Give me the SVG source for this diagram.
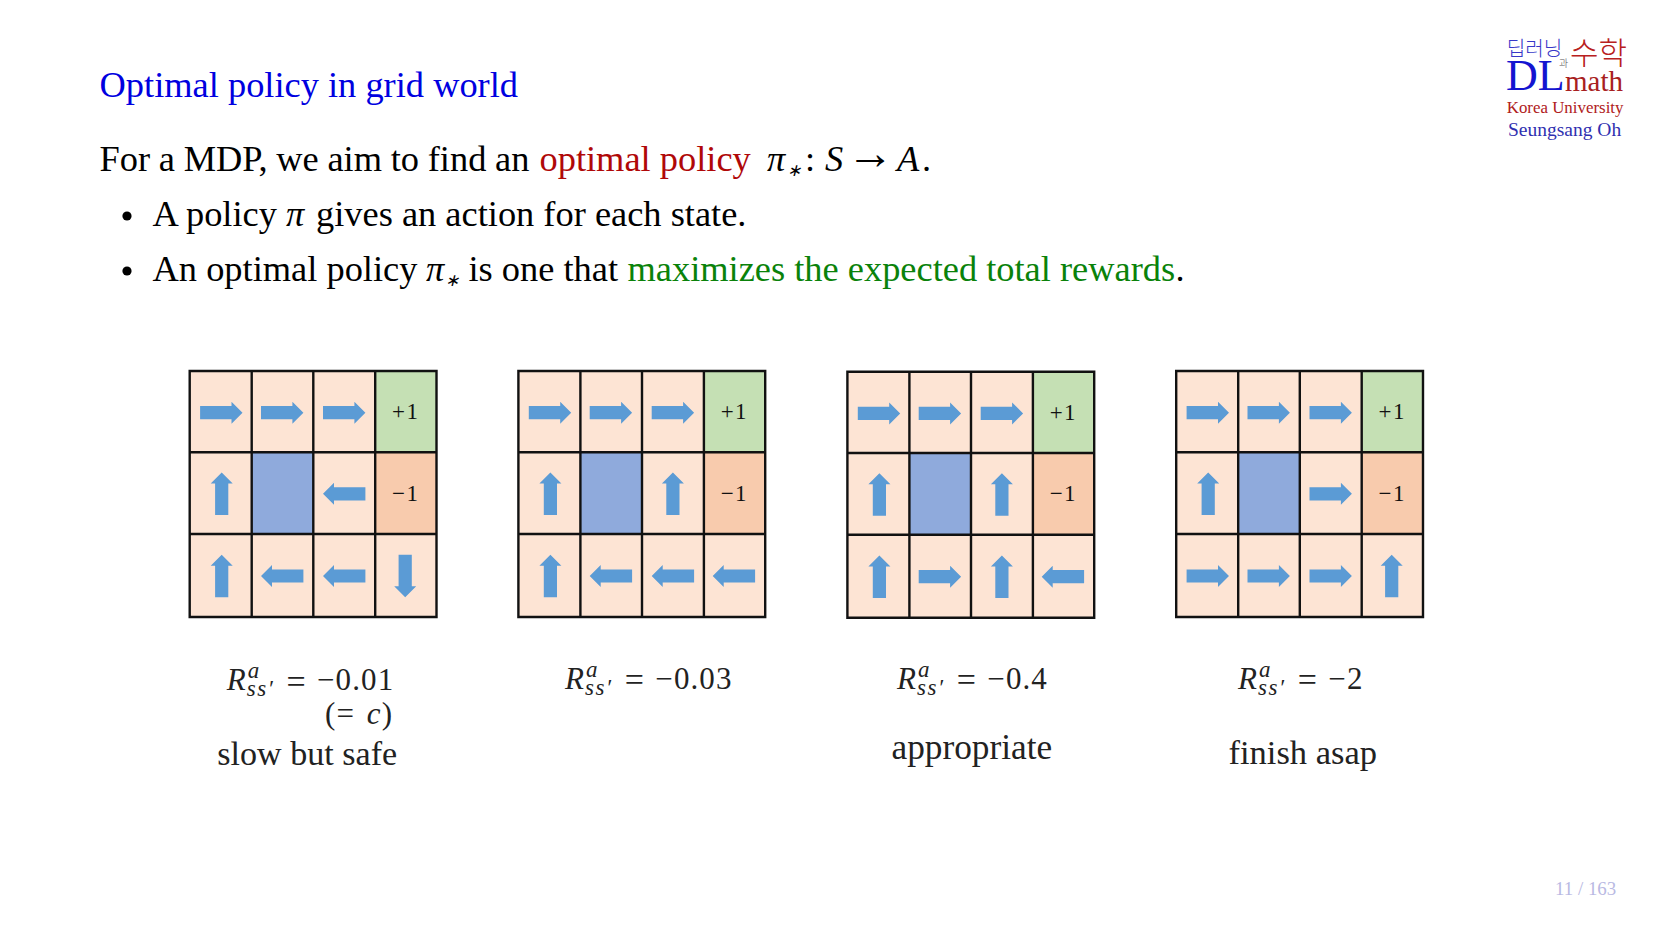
<svg xmlns="http://www.w3.org/2000/svg" xmlns:xlink="http://www.w3.org/1999/xlink" width="1662" height="935" viewBox="0 0 1662 935">
<style>
text{font-family:"Liberation Serif","Noto Sans CJK KR",serif}
.m{font-size:36.4px}
.i{font-style:italic}
.st{font-size:17px;font-style:italic}
.eq{font-size:31px;fill:#222;letter-spacing:1.1px}
.eqq{font-size:34px;fill:#222}
.eqs{font-size:23px;fill:#222;font-style:italic}
.ssp{letter-spacing:1.6px}
.cap{fill:#222}
.v{font-size:23px;fill:#111;text-anchor:middle;letter-spacing:1.5px}
.a{fill:#5b9bd5}
.cell{fill:#fde4d4}
.ln{stroke:#111;stroke-width:2.4;fill:none}
.kr{font-family:"Noto Sans CJK KR","Liberation Sans",sans-serif;font-weight:300}
</style>
<defs>
<path id="ar" class="a" d="M-21.2-6.6H10.2V-11L21.2 0 10.2 11V6.6H-21.2Z"/>
<g id="board">
<rect class="cell" x="0" y="0" width="246.8" height="246"/>
<rect x="185.5" y="0" width="61.3" height="81.3" fill="#c5e0b4"/>
<rect x="185.5" y="81.3" width="61.3" height="81.7" fill="#f8cbad"/>
<rect x="62" y="81.3" width="61.6" height="81.7" fill="#8faadc"/>
<path class="ln" d="M0 0H246.8V246H0ZM62 0V246M123.6 0V246M185.5 0V246M0 81.3H246.8M0 163H246.8"/>
</g>
</defs>
<rect width="1662" height="935" fill="#fff"/>

<text id="title" x="99.6" y="96.5" font-size="36.4" fill="#0000e0">Optimal policy in grid world</text>

<g id="body">
<text class="m" x="99.6" y="171" word-spacing="-0.4">For a MDP, we aim to find an</text><text class="m" x="539.5" y="171" fill="#b00808">optimal policy</text>
<text class="m i" x="767" y="171">π</text><text class="st" x="787" y="176">∗</text>
<text class="m" x="805" y="171">:</text><text class="m i" x="825" y="171">S</text><text x="846.5" y="168.5" font-size="47">→</text><text class="m i" x="897" y="171">A</text><text class="m" x="922" y="171">.</text>
<circle cx="127" cy="216" r="4.6" fill="#000"/>
<text class="m" x="152.6" y="226">A policy</text><text class="m i" x="286" y="226">π</text><text class="m" x="316" y="226">gives an action for each state.</text>
<circle cx="127" cy="271" r="4.6" fill="#000"/>
<text class="m" x="152.6" y="281">An optimal policy</text><text class="m i" x="426" y="281">π</text><text class="st" x="445" y="286">∗</text>
<text class="m" x="468.5" y="281">is one that</text><text class="m" x="627.5" y="281" fill="#0a820a">maximizes the expected total rewards</text><text class="m" x="1175.5" y="281">.</text>
</g>

<g id="logo">
<text class="kr" x="1506.7" y="56" font-size="20.2" fill="#3838c8">딥러닝</text>
<text class="kr" x="1570" y="64" font-size="31" fill="#b82020">수학</text>
<text class="kr" x="1559" y="67" font-size="10" fill="#555">과</text>
<text x="1506" y="90" font-size="44" fill="#1414d0">DL</text>
<text x="1565" y="90.5" font-size="29" fill="#a82020">math</text>
<text x="1506.7" y="112.5" font-size="16.9" fill="#b02020">Korea University</text>
<text x="1508" y="136" font-size="19.5" fill="#3030b0">Seungsang Oh</text>
</g>

<g id="grid1" transform="translate(189.7 371)">
<use href="#board"/>
<use href="#ar" transform="translate(31.6 41.7)"/><use href="#ar" transform="translate(92.5 41.7)"/><use href="#ar" transform="translate(154.5 41.7)"/>
<use href="#ar" transform="translate(32 122.8) rotate(-90)"/><use href="#ar" transform="translate(154.5 122.8) rotate(180)"/>
<use href="#ar" transform="translate(32 205) rotate(-90)"/><use href="#ar" transform="translate(92.5 205) rotate(180)"/><use href="#ar" transform="translate(154.5 205) rotate(180)"/><use href="#ar" transform="translate(215.5 205) rotate(90)"/>
<text class="v" x="216" y="48.3">+1</text><text class="v" x="216" y="129.7">−1</text>
</g>
<g id="grid2" transform="translate(518.4 371)">
<use href="#board"/>
<use href="#ar" transform="translate(31.6 41.7)"/><use href="#ar" transform="translate(92.5 41.7)"/><use href="#ar" transform="translate(154.5 41.7)"/>
<use href="#ar" transform="translate(32 122.8) rotate(-90)"/><use href="#ar" transform="translate(154.5 122.8) rotate(-90)"/>
<use href="#ar" transform="translate(32 205) rotate(-90)"/><use href="#ar" transform="translate(92.5 205) rotate(180)"/><use href="#ar" transform="translate(154.5 205) rotate(180)"/><use href="#ar" transform="translate(215.5 205) rotate(180)"/>
<text class="v" x="216" y="48.3">+1</text><text class="v" x="216" y="129.7">−1</text>
</g>
<g id="grid3" transform="translate(847.4 371.7)">
<use href="#board"/>
<use href="#ar" transform="translate(31.6 41.7)"/><use href="#ar" transform="translate(92.5 41.7)"/><use href="#ar" transform="translate(154.5 41.7)"/>
<use href="#ar" transform="translate(32 122.8) rotate(-90)"/><use href="#ar" transform="translate(154.5 122.8) rotate(-90)"/>
<use href="#ar" transform="translate(32 205) rotate(-90)"/><use href="#ar" transform="translate(92.5 205)"/><use href="#ar" transform="translate(154.5 205) rotate(-90)"/><use href="#ar" transform="translate(215.5 205) rotate(180)"/>
<text class="v" x="216" y="48.3">+1</text><text class="v" x="216" y="129.7">−1</text>
</g>
<g id="grid4" transform="translate(1176.2 371)">
<use href="#board"/>
<use href="#ar" transform="translate(31.6 41.7)"/><use href="#ar" transform="translate(92.5 41.7)"/><use href="#ar" transform="translate(154.5 41.7)"/>
<use href="#ar" transform="translate(32 122.8) rotate(-90)"/><use href="#ar" transform="translate(154.5 122.8)"/>
<use href="#ar" transform="translate(31.6 205)"/><use href="#ar" transform="translate(92.5 205)"/><use href="#ar" transform="translate(154.5 205)"/><use href="#ar" transform="translate(215.5 205) rotate(-90)"/>
<text class="v" x="216" y="48.3">+1</text><text class="v" x="216" y="129.7">−1</text>
</g>

<g id="label1">
<text class="eq i" x="226.7" y="690.3">R</text><text class="eqs" x="247.7" y="678">a</text><text class="eqs ssp" x="246.7" y="696">ss′</text>
<text class="eqq" x="286.5" y="692.5">=</text><text class="eq" x="317" y="690.3">−0.01</text>
<text class="eq" x="325" y="723.7" word-spacing="3">(= <tspan class="i">c</tspan>)</text>
<text class="cap" x="217.3" y="764.5" font-size="34.1">slow but safe</text>
</g>
<g id="label2">
<text class="eq i" x="565" y="689">R</text><text class="eqs" x="586" y="676.7">a</text><text class="eqs ssp" x="585" y="694.7">ss′</text>
<text class="eqq" x="624.8" y="691.2">=</text><text class="eq" x="655.3" y="689">−0.03</text>
</g>
<g id="label3">
<text class="eq i" x="897" y="689">R</text><text class="eqs" x="918" y="676.7">a</text><text class="eqs ssp" x="917" y="694.7">ss′</text>
<text class="eqq" x="956.8" y="691.2">=</text><text class="eq" x="987.3" y="689">−0.4</text>
<text class="cap" x="891.5" y="759" font-size="35.3">appropriate</text>
</g>
<g id="label4">
<text class="eq i" x="1238" y="689">R</text><text class="eqs" x="1259" y="676.7">a</text><text class="eqs ssp" x="1258" y="694.7">ss′</text>
<text class="eqq" x="1297.8" y="691.2">=</text><text class="eq" x="1328.3" y="689">−2</text>
<text class="cap" x="1228.5" y="764" font-size="34.5">finish asap</text>
</g>

<text id="page" x="1555" y="895" font-size="18.9" fill="#b9b9e3">11 / 163</text>
</svg>
